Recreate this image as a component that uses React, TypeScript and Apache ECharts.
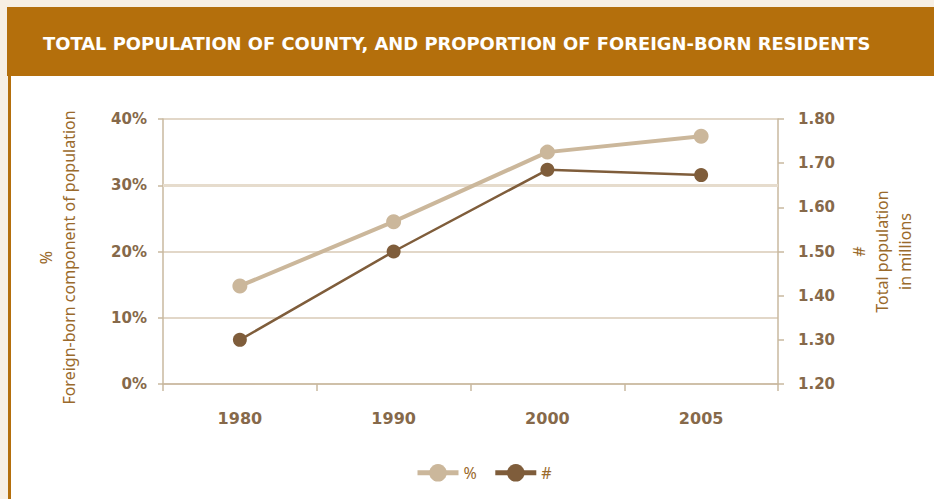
import React, { useEffect, useRef } from "react";
import * as echarts from "echarts";

const TITLE = "TOTAL POPULATION OF COUNTY, AND PROPORTION OF FOREIGN-BORN RESIDENTS";
const categories = ["1980", "1990", "2000", "2005"];
const pctValues = [14.8, 24.5, 35.0, 37.4];
const popValues = [1.3, 1.5, 1.685, 1.673];
const seriesNames = ["%", "#"];
const leftAxisName = "%\nForeign-born component of population";
const rightAxisName = "#\nTotal population\nin millions";

const TICK_COLOR = "#86694a";
const NAME_COLOR = "#9a6a2c";
const AXIS_COLOR = "#c9b89f";
const GRID_COLOR = "#d8cab6";
const PCT_COLOR = "#cbb79b";
const POP_COLOR = "#7f5d3b";
const BAR_COLOR = "#b46f0c";
const CREAM = "#f7efe4";

export default function App() {
  const ref = useRef<HTMLDivElement>(null);
  useEffect(() => {
    if (!ref.current) return;
    const chart = echarts.init(ref.current, null, { renderer: "svg" });
    const labelFont = { color: TICK_COLOR, fontFamily: "DejaVu Sans", fontWeight: "bold" as const, fontSize: 15 };
    chart.setOption({
      animation: false,
      backgroundColor: CREAM,
      graphic: [
        { type: "rect", shape: { x: 7, y: 7, width: 927, height: 69 }, style: { fill: BAR_COLOR }, z: -10 },
        { type: "rect", shape: { x: 8, y: 76, width: 3, height: 423 }, style: { fill: BAR_COLOR }, z: -10 },
        { type: "rect", shape: { x: 11, y: 76, width: 923, height: 423 }, style: { fill: "#ffffff" }, z: -10 },
        {
          type: "text",
          x: 43,
          y: 43,
          style: {
            text: TITLE,
            fill: "#ffffff",
            font: "bold 17.9px 'DejaVu Sans'",
            textVerticalAlign: "middle",
          },
          z: 10,
        },
      ],
      grid: { left: 163, right: 156, top: 119, bottom: 115, containLabel: false },
      legend: {
        left: 415,
        top: 464,
        padding: 0,
        itemWidth: 41,
        itemHeight: 22,
        itemGap: 16,
        lineStyle: { width: 5 },
        textStyle: { color: NAME_COLOR, fontFamily: "Noto Sans", fontSize: 16 },
        data: seriesNames,
      },
      xAxis: {
        type: "category",
        data: categories,
        boundaryGap: true,
        axisLine: { lineStyle: { color: AXIS_COLOR, width: 1.5 } },
        axisTick: { show: true, length: 7, lineStyle: { color: AXIS_COLOR, width: 1.5 } },
        axisLabel: { ...labelFont, fontSize: 16, margin: 26 },
        splitLine: { show: false },
      },
      yAxis: [
        {
          type: "value",
          min: 0,
          max: 40,
          interval: 10,
          position: "left",
          name: leftAxisName,
          nameLocation: "middle",
          nameRotate: 90,
          nameGap: 83,
          nameTextStyle: { color: NAME_COLOR, fontFamily: "Noto Sans", fontSize: 16, lineHeight: 23, padding: [0, 12, 0, 0] },
          axisLine: { show: true, lineStyle: { color: AXIS_COLOR, width: 1.5 } },
          axisTick: { show: true, length: 5, lineStyle: { color: AXIS_COLOR, width: 1.5 } },
          axisLabel: { ...labelFont, margin: 16, formatter: (v: number) => `${v}%` },
          splitLine: { show: true, lineStyle: { color: GRID_COLOR, width: 1.5 } },
        },
        {
          type: "value",
          min: 1.2,
          max: 1.8,
          interval: 0.1,
          position: "right",
          name: rightAxisName,
          nameLocation: "middle",
          nameRotate: 90,
          nameGap: 69,
          nameTextStyle: { color: NAME_COLOR, fontFamily: "Noto Sans", fontSize: 16, lineHeight: 23 },
          axisLine: { show: true, lineStyle: { color: AXIS_COLOR, width: 1.5 } },
          axisTick: { show: true, length: 6, lineStyle: { color: AXIS_COLOR, width: 1.5 } },
          axisLabel: { ...labelFont, margin: 20, formatter: (v: number) => v.toFixed(2) },
          splitLine: { show: false },
        },
      ],
      series: [
        {
          name: seriesNames[0],
          type: "line",
          yAxisIndex: 0,
          data: pctValues,
          symbol: "circle",
          symbolSize: 15,
          lineStyle: { color: PCT_COLOR, width: 4 },
          itemStyle: { color: PCT_COLOR },
          z: 3,
          markLine: {
            silent: true,
            symbol: "none",
            label: { show: false },
            lineStyle: { color: "#e6dccd", width: 3, type: "solid" },
            data: [{ yAxis: 30 }],
            z: 1,
          },
        },
        {
          name: seriesNames[1],
          type: "line",
          yAxisIndex: 1,
          data: popValues,
          symbol: "circle",
          symbolSize: 14,
          lineStyle: { color: POP_COLOR, width: 2.5 },
          itemStyle: { color: POP_COLOR },
          z: 4,
        },
      ],
    });
    return () => chart.dispose();
  }, []);
  return <div ref={ref} style={{ position: "fixed", left: 0, top: 0, width: 934, height: 499 }} />;
}
